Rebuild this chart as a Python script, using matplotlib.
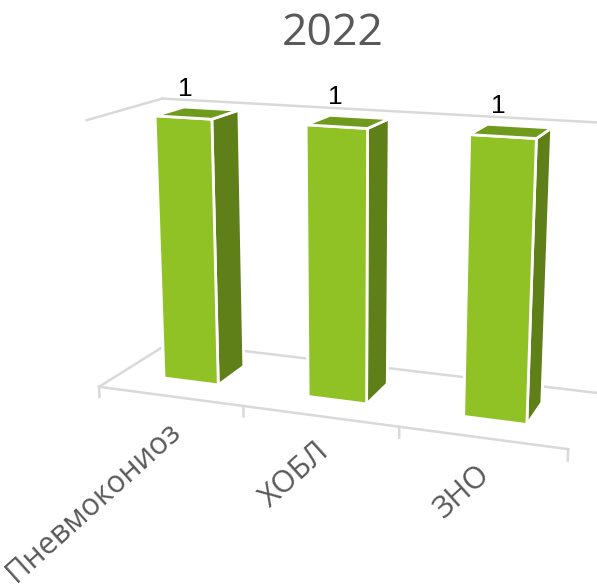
import matplotlib
matplotlib.use("Agg")
import matplotlib.pyplot as plt
from mpl_toolkits.mplot3d import proj3d
import numpy as np

categories = ['Пневмокониоз', 'ХОБЛ', 'ЗНО']
values = [1, 1, 1]
value_labels = ['1', '1', '1']
title = '2022'

front_color = '#90C226'
side_color = '#5F7F18'
top_color = '#6F9A1C'
grid_color = '#D9D9D9'
text_color = '#595959'

plt.rcParams['font.family'] = ['Open Sans', 'DejaVu Sans']

fig = plt.figure(figsize=(5.97, 5.87), dpi=100)
ax = fig.add_axes([0.07, 0.045, 1, 1], projection='3d')
ax.set_proj_type('persp', focal_length=0.45)
ax.view_init(elev=14.5, azim=-69.7)
ax.set_box_aspect((3, 0.98, 1.7), zoom=0.966)
ax.set_axis_off()

n = len(categories)
bar_w = 0.385
bar_d = 0.4
xpos = np.arange(n) + 0.5 - bar_w / 2
ypos = np.full(n, 0.5 - bar_d / 2)
# one colour per face: bottom, top, front, back, left, right
faces = [front_color, top_color, front_color, front_color, side_color, side_color]
ax.bar3d(xpos, ypos, np.zeros(n), bar_w, bar_d, values,
         color=faces * n, edgecolor='white', linewidth=2, shade=False)

ax.set_xlim(0, n)
ax.set_ylim(0, 1)
ax.set_zlim(0, 1)

# floor and wall lines
ax.plot([0, n], [0, 0], [0, 0], color=grid_color, lw=1.8)
ax.plot([0, n], [1, 1], [0, 0], color=grid_color, lw=1.8, zorder=0)
ax.plot([0, n], [1, 1], [1, 1], color=grid_color, lw=1.8, zorder=0)
ax.plot([0, 0], [0, 1], [0, 0], color=grid_color, lw=1.8, zorder=0)
ax.plot([0, 0], [0, 1], [1, 1], color=grid_color, lw=1.8, zorder=0)

for i in range(n + 1):
    ax.plot([i, i], [0, 0], [0, -0.04], color=grid_color, lw=1.8)


def place(x, y, z):
    # 3D text ignores rotation, so go through the projected position
    px, py, _ = proj3d.proj_transform(x, y, z, ax.get_proj())
    return px, py


for i, name in enumerate(categories):
    px, py = place(i + 0.47, 0, -0.08)
    ax.text2D(px, py, name, rotation=42, ha='right', va='top',
              rotation_mode='anchor', fontsize=22, color=text_color,
              transform=ax.transData)
    px, py = place(i + 0.42, 0.5, values[i] + 0.085)
    ax.text2D(px, py, value_labels[i], ha='center', va='center', fontsize=19,
              color='black', family='Liberation Sans', transform=ax.transData)

fig.text(0.558, 0.943, title, ha='center', va='center', fontsize=32, color=text_color)

fig.savefig('out.png', dpi=100)
